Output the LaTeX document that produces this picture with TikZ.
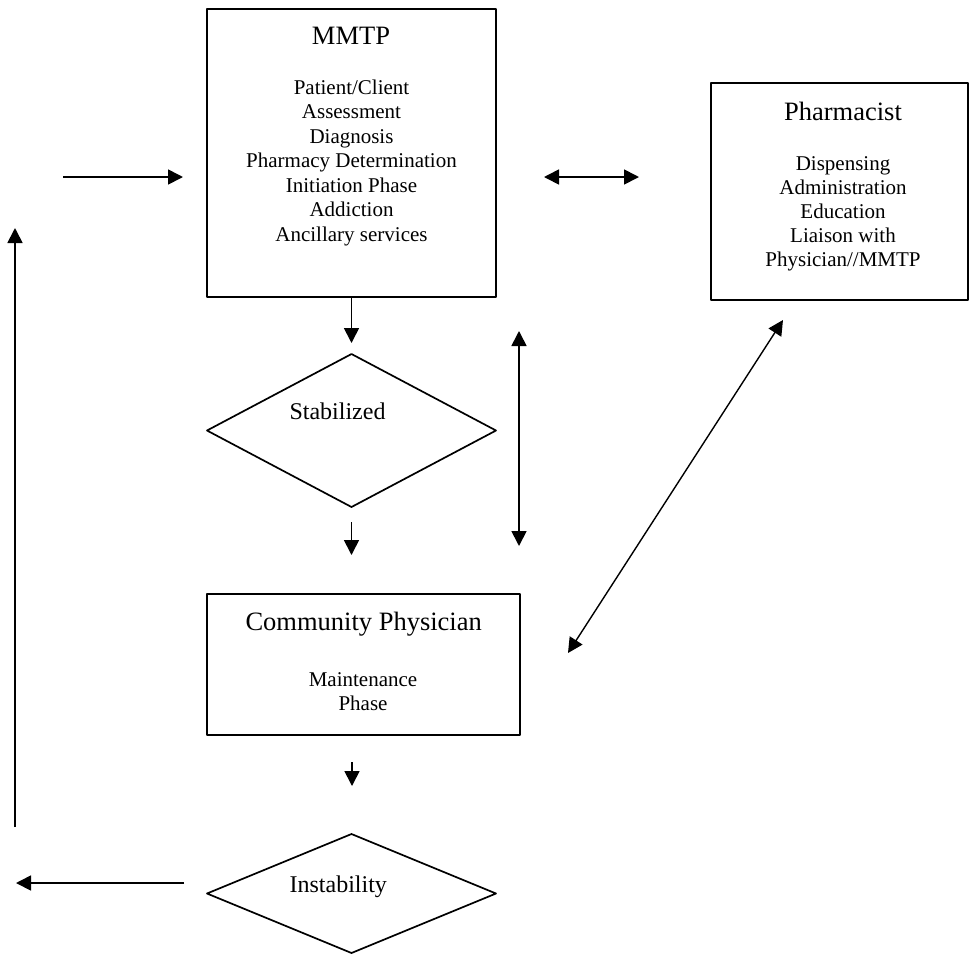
\documentclass[tikz,border=0pt]{standalone}
\usepackage{fontspec}
\setmainfont{Liberation Serif}
\usetikzlibrary{shapes.geometric,arrows.meta}
\begin{document}
\begin{tikzpicture}[x=1pt, y=-1pt, line join=round, >={Triangle[length=15pt,width=15pt]},
	box/.style={draw, line width=2pt, inner sep=0pt, outer sep=0pt},
	decision/.style={draw, diamond, line width=1.7pt, inner sep=0pt, outer sep=0pt},
	title/.style={anchor=base, font=\fontsize{26.5}{30}\selectfont},
	body/.style={anchor=base, font=\fontsize{21}{24}\selectfont},
	flow/.style={line width=1.7pt}]
	\useasboundingbox (0,0) rectangle (969,954);
	% boxes and decisions
	\node[box, minimum width=289pt, minimum height=288pt] (mmtp) at (351.5,153) {};
	\node[box, minimum width=257pt, minimum height=217pt] (pharm) at (839.5,191.5) {};
	\node[decision, minimum width=289pt, minimum height=153pt] (stab) at (351.5,430.5) {};
	\node[box, minimum width=313pt, minimum height=141pt] (phys) at (363.5,664.5) {};
	\node[decision, minimum width=289pt, minimum height=119pt] (inst) at (351.5,893.5) {};
	% texts
	\node[title] (mmtpT) at (351,44) {MMTP};
	\foreach \t [count=\i from 0] in {Patient/Client, Assessment, Diagnosis, Pharmacy Determination, Initiation Phase, Addiction, Ancillary services}
		\node[body] (mmtpL\i) at (351.5,94.3+24.45*\i) {\t};
	\node[title] (pharmT) at (843,120) {Pharmacist};
	\foreach \t [count=\i from 0] in {Dispensing, Administration, Education, Liaison with, Physician//MMTP}
		\node[body] (pharmL\i) at (843,170+24.2*\i) {\t};
	\node[anchor=base, font=\fontsize{24}{28}\selectfont] (stabT) at (337.5,419.3) {Stabilized};
	\node[title] (physT) at (363.7,630) {Community Physician};
	\node[body] (physA) at (363,686) {Maintenance};
	\node[body] (physB) at (363,710) {Phase};
	\node[anchor=base, font=\fontsize{24}{28}\selectfont] (instT) at (338.3,892.7) {Instability};
	% arrow ends
	\coordinate (inA) at (63,177);     \coordinate (inB) at (183,177);
	\coordinate (loopA) at (15,827);   \coordinate (loopB) at (15,228);
	\coordinate (stabIn) at (351.5,343);
	\coordinate (stabA) at (351.5,522);  \coordinate (stabB) at (351.5,555);
	\coordinate (sideA) at (519,331);  \coordinate (sideB) at (519,546);
	\coordinate (linkA) at (544,177);  \coordinate (linkB) at (639,177);
	\coordinate (diagA) at (783,320);  \coordinate (diagB) at (568,653);
	\coordinate (instA) at (352,762);  \coordinate (instB) at (352,786);
	\coordinate (outA) at (184,883);   \coordinate (outB) at (16,883);
	% arrows
	\draw[flow, ->] (inA) -- (inB);
	\draw[flow, ->] (loopA) -- (loopB);
	\draw[flow, ->] (mmtp.south) -- (stabIn);
	\draw[flow, ->] (stabA) -- (stabB);
	\draw[flow, <->] (sideA) -- (sideB);
	\draw[flow, <->] (linkA) -- (linkB);
	\draw[flow, <->, line width=1.4pt] (diagA) -- (diagB);
	\draw[flow, ->] (instA) -- (instB);
	\draw[flow, ->] (outA) -- (outB);
\end{tikzpicture}
\end{document}
